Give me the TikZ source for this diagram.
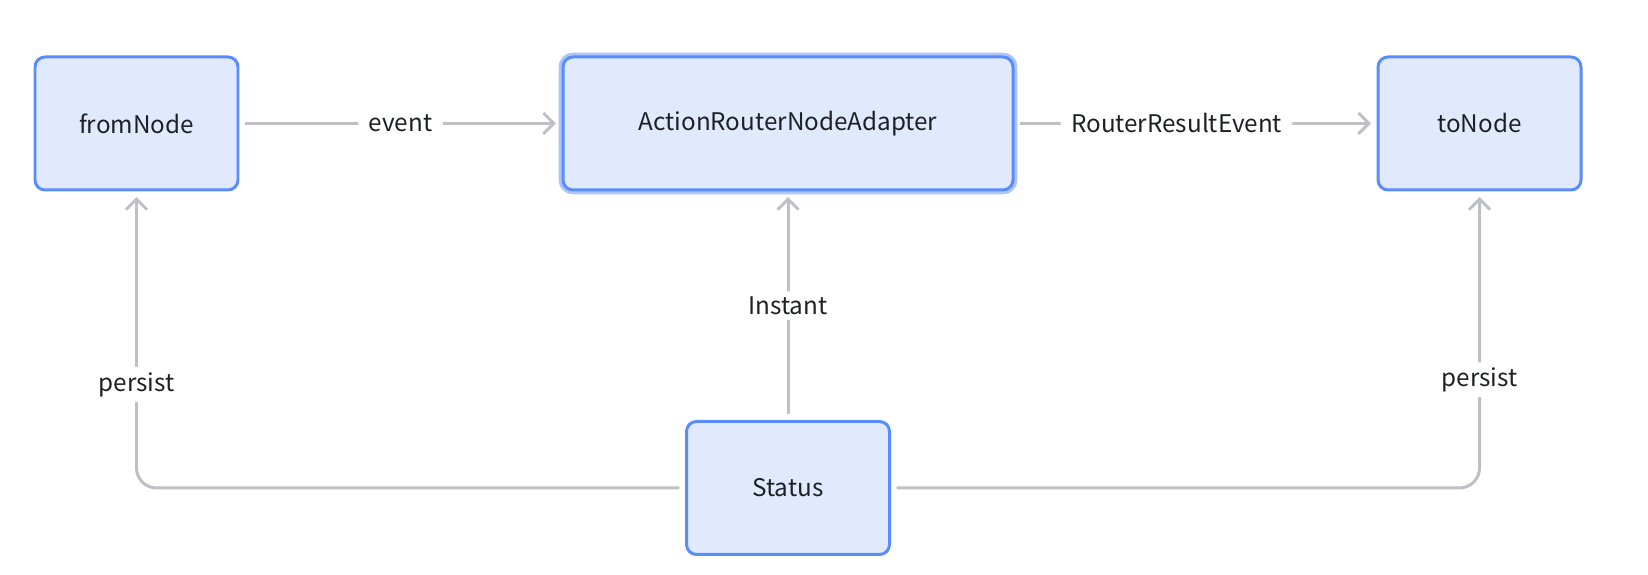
\documentclass[tikz,border=0pt]{standalone}
\usepackage{fontspec}
\setmainfont{Noto Sans CJK SC}
\usepackage{tikz}
\usetikzlibrary{arrows.meta}
\definecolor{boxfill}{RGB}{224,233,253}
\definecolor{boxline}{RGB}{90,141,249}
\definecolor{boxglow}{RGB}{172,197,251}
\definecolor{linegray}{RGB}{190,192,197}
\definecolor{labeltext}{RGB}{30,32,36}

\begin{document}
\begin{tikzpicture}[
  box/.style={draw=boxline,fill=boxfill,line width=1.7pt,rounded corners=0.2cm,
    minimum width=4.06cm,minimum height=2.66cm,outer sep=4pt,
    text=labeltext,font=\fontsize{13.8}{16}\selectfont},
  selected/.style={preaction={draw=boxglow,line width=5pt}},
  conn/.style={draw=linegray,line width=1.7pt,rounded corners=0.4cm,
    -{Straight Barb[length=6pt,width=12pt]}},
  lbl/.style={fill=white,text=labeltext,font=\fontsize{13.8}{16}\selectfont,
    inner xsep=6pt,inner ysep=3pt}
]
  \useasboundingbox (0,0) rectangle (32.96,11.5);

  \node[box] at (2.73,9.03) (fromNode) {fromNode};
  \node[box,selected,minimum width=9cm] at ([xshift=13.03cm]fromNode) (adapter) {ActionRouterNodeAdapter};
  \node[box] at ([xshift=13.83cm]adapter) (toNode) {toNode};
  \node[box] at ([yshift=-7.29cm]adapter) (status) {Status};

  \draw[conn] (fromNode) -- node[lbl] {event} (adapter);
  \draw[conn] (adapter) -- node[lbl,pos=0.446] {RouterResultEvent} (toNode);
  \draw[conn] (status) -- node[lbl] {Instant} (adapter);

  % persist: Status feeds both outer nodes
  \draw[conn] (status.west) -| node[lbl,pos=0.678] {persist} (fromNode.south);
  \draw[conn] (status.east) -| node[lbl,pos=0.686] {persist} (toNode.south);

\end{tikzpicture}
\end{document}
